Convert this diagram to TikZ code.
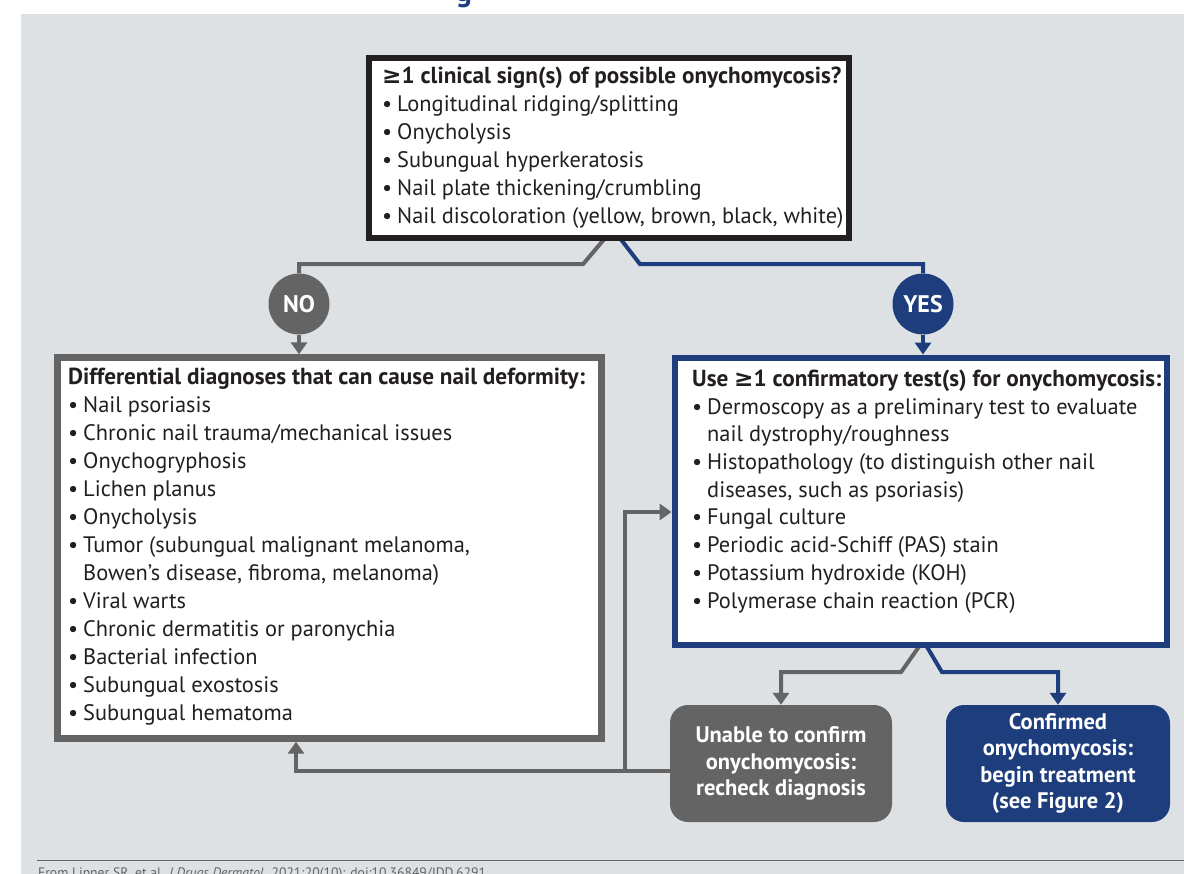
\documentclass[tikz,border=0pt]{standalone}
\usepackage{fontspec}
\setmainfont{PT Sans}
\newfontfamily\symf{DejaVu Sans}
\usetikzlibrary{arrows.meta}
\definecolor{panel}{RGB}{221,225,228}
\definecolor{dgray}{RGB}{100,100,100}
\definecolor{nblue}{RGB}{29,61,124}
\definecolor{nblack}{RGB}{35,31,32}
\newcommand\bul{\makebox[15pt][l]{•}}
\newcommand\cont{\hspace*{15pt}}
\newcommand\hd[1]{{\fontsize{23.2}{28}\selectfont\bfseries #1}}
\begin{document}
\begin{tikzpicture}[x=1pt,y=-1pt,
  conn/.style={line width=4pt},
  gconn/.style={conn,draw=dgray},
  bconn/.style={conn,draw=nblue},
  tip/.style={-{Triangle[width=16pt,length=12pt]}},
  txt/.style={align=left,inner sep=0,anchor=base west,text=nblack,font=\fontsize{22.4}{28}\selectfont},
  endbox/.style={rounded corners=18pt,minimum width=222pt,minimum height=117pt,inner sep=0,text=white,align=center,font=\bfseries\fontsize{22.5}{26.5}\selectfont},
  answer/.style={circle,minimum size=61pt,inner sep=0,text=white,font=\bfseries\fontsize{24}{24}\selectfont}]
\useasboundingbox (0,0) rectangle (1184,874);
\fill[white] (0,0) rectangle (1184,874);
\fill[panel] (21,14) rectangle (1184,874);
\node[anchor=base,text=nblue,inner sep=0,font=\bfseries\fontsize{30}{30}\selectfont] (title) at (464,2) {g};

% box shapes (for anchors)
\path (609,148) coordinate (qc) (329.5,548) coordinate (dc) (921,501.5) coordinate (tc);
\node[minimum width=480pt,minimum height=180pt,inner sep=0] (q) at (qc) {};
\node[minimum width=543pt,minimum height=380pt,inner sep=0] (d) at (dc) {};
\node[minimum width=492pt,minimum height=287pt,inner sep=0] (t) at (tc) {};
\node[endbox,fill=dgray] (u) at (781,763.5) {Unable to confirm\\onychomycosis:\\recheck diagnosis};
\node[endbox,fill=nblue,minimum width=224pt] (c) at (1058,763.5) {Confirmed\\onychomycosis:\\begin treatment\\(see Figure 2)};
\node[answer,fill=dgray] (no) at (299,304) {NO};
\node[answer,fill=nblue] (yes) at (923,304) {YES};

% connectors
\draw[gconn] ([xshift=-4pt]q.south) -- ++(-22,26) -| (no);
\draw[gconn,tip,shorten >=3.5pt] (no) -- (no |- d.north);
\draw[bconn] ([xshift=11pt]q.south) -- ++(20,26) -| (yes);
\draw[bconn,tip,shorten >=3.25pt] (yes) -- (yes |- t.north);
\draw[gconn,tip] ([xshift=-1pt]t.south) -- ++(-19,27) -| (u.north);
\draw[bconn,tip] ([xshift=5pt]t.south) -- ++(16,27) -| (c.north);
\draw[gconn,tip,shorten >=3.5pt] ([yshift=-7.5pt]u.west) -| ([xshift=-33.5pt]d.south);
\coordinate (j) at (625,771);
\draw[gconn,tip,shorten >=3.25pt] (j) |- ([yshift=-10.5pt]t.west);

% boxes drawn on top
\draw[nblack,line width=6pt,fill=white] (q.north west) rectangle (q.south east);
\draw[dgray,line width=7pt,fill=white] (d.north west) rectangle (d.south east);
\draw[nblue,line width=6.5pt,fill=white] (t.north west) rectangle (t.south east);

\node[txt] (qt) at (382,224) {\hd{{\symf ≥}1 clinical sign(s) of possible onychomycosis?}\\
\bul Longitudinal ridging/splitting\\
\bul Onycholysis\\
\bul Subungual hyperkeratosis\\
\bul Nail plate thickening/crumbling\\
\bul Nail discoloration (yellow, brown, black, white)};

\node[txt] (dt) at (68,720) {\hd{Differential diagnoses that can cause nail deformity:}\\
\bul Nail psoriasis\\
\bul Chronic nail trauma/mechanical issues\\
\bul Onychogryphosis\\
\bul Lichen planus\\
\bul Onycholysis\\
\bul Tumor (subungual malignant melanoma,\\
\cont Bowen’s disease, fibroma, melanoma)\\
\bul Viral warts\\
\bul Chronic dermatitis or paronychia\\
\bul Bacterial infection\\
\bul Subungual exostosis\\
\bul Subungual hematoma};

\node[txt,font=\fontsize{22.4}{27.7}\selectfont] (tt) at (692,608) {\hd{Use {\symf ≥}1 confirmatory test(s) for onychomycosis:}\\
\bul Dermoscopy as a preliminary test to evaluate\\
\cont nail dystrophy/roughness\\
\bul Histopathology (to distinguish other nail\\
\cont diseases, such as psoriasis)\\
\bul Fungal culture\\
\bul Periodic acid-Schiff (PAS) stain\\
\bul Potassium hydroxide (KOH)\\
\bul Polymerase chain reaction (PCR)};

% footer
\draw[dgray,line width=1pt] (37,860) -- (1184,860);
\node[anchor=base west,inner sep=0,text=dgray,font=\fontsize{13.7}{14}\selectfont] (foot) at (38,877) {From Lipner SR, et al. \textit{J Drugs Dermatol.} 2021;20(10): doi:10.36849/JDD.6291};
\end{tikzpicture}
\end{document}
